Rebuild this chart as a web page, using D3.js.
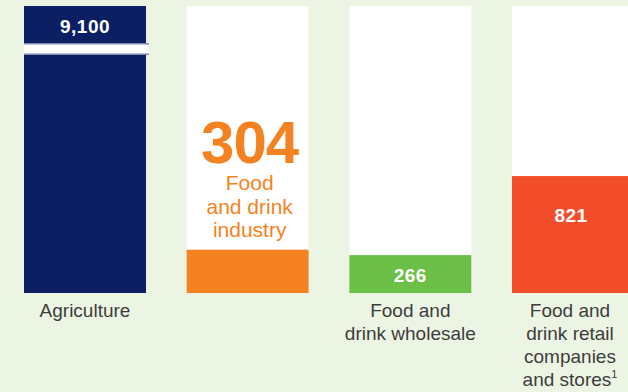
<!DOCTYPE html>
<html>
<head>
<meta charset="utf-8">
<script src="https://cdn.jsdelivr.net/npm/d3@7"></script>
<style>
  html, body { margin: 0; padding: 0; background: #ecf4e3; }
  svg { display: block; }
  text { font-family: "Liberation Sans", Arial, sans-serif; }
</style>
</head>
<body>
<svg id="chart" width="628" height="392"></svg>
<script>
// Employees (thousands) along the food chain
const categories = ["Agriculture", "Food and drink industry", "Food and drink wholesale", "Food and drink retail companies and stores"];
const values = [9100, 304, 266, 821];
const valueLabels = ["9,100", "304", "266", "821"];
const colors = ["#0c1f63", "#f58220", "#6cbf47", "#f24e29"];
const labelLines = [["Agriculture"], [], ["Food and", "drink wholesale"], ["Food and", "drink retail", "companies", "and stores"]];

const svg = d3.select("#chart");
const yBottom = 293, yTop = 6;

const x = d3.scaleBand().domain(categories).range([24, 634]).paddingInner(0.25).paddingOuter(0);
const y = d3.scaleLinear().domain([0, 2015]).range([yBottom, yTop]);
const bw = x.bandwidth();

const g = svg.append("g");

// white column backgrounds
g.selectAll("rect.bg").data(categories).join("rect")
  .attr("class", "bg")
  .attr("x", d => x(d)).attr("y", yTop).attr("width", bw).attr("height", yBottom - yTop)
  .attr("fill", "#ffffff");

// bars, clipped to the column height
g.selectAll("rect.bar").data(values).join("rect")
  .attr("class", "bar")
  .attr("x", (d, i) => x(categories[i]))
  .attr("y", d => Math.max(y(d), yTop))
  .attr("width", bw)
  .attr("height", d => yBottom - Math.max(y(d), yTop))
  .attr("fill", (d, i) => colors[i]);

// axis break on the agriculture bar
const x0 = x(categories[0]);
g.append("rect").attr("x", x0).attr("y", 43).attr("width", bw + 3).attr("height", 12).attr("fill", "#7d89b1");
g.append("rect").attr("x", x0).attr("y", 44.5).attr("width", bw + 3).attr("height", 9).attr("fill", "#ffffff");

// value labels inside bars
const inside = [
  { i: 0, yb: 33 },
  { i: 2, yb: 282 },
  { i: 3, yb: 222 }
];
g.selectAll("text.val").data(inside).join("text")
  .attr("class", "val")
  .attr("x", d => x(categories[d.i]) + bw / 2 - (d.i === 3 ? 2 : 0))
  .attr("y", d => d.yb)
  .attr("text-anchor", "middle")
  .attr("fill", "#ffffff")
  .attr("font-weight", "bold")
  .attr("font-size", 19)
  .attr("letter-spacing", 0.5)
  .text(d => valueLabels[d.i]);

// food and drink industry: large label above its bar
const cx1 = x(categories[1]) + bw / 2 + 2;
g.append("text").attr("x", cx1).attr("y", 163).attr("text-anchor", "middle")
  .attr("fill", colors[1]).attr("font-weight", "bold").attr("font-size", 60)
  .attr("letter-spacing", -1).text(valueLabels[1]);
["Food", "and drink", "industry"].forEach((t, k) => {
  g.append("text").attr("x", cx1).attr("y", 190 + k * 23.5).attr("text-anchor", "middle")
    .attr("fill", colors[1]).attr("font-size", 21).text(t);
});

// category labels under the columns
labelLines.forEach((lines, i) => {
  const cx = x(categories[i]) + bw / 2 - (i === 3 ? 3 : 0);
  lines.forEach((t, k) => {
    const txt = g.append("text").attr("x", cx).attr("y", 317 + k * 23)
      .attr("text-anchor", "middle").attr("fill", "#3d3d3d").attr("font-size", 19).text(t);
    if (i === 3 && k === lines.length - 1) {
      txt.append("tspan").attr("font-size", 11).attr("dy", -8).text("1");
    }
  });
});
</script>
</body>
</html>
